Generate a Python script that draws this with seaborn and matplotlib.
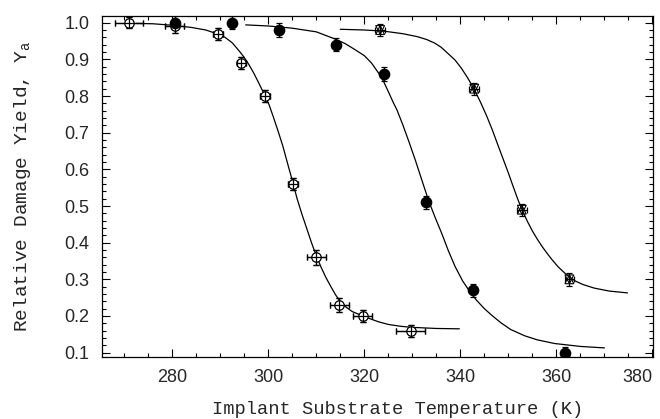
import matplotlib
matplotlib.use("Agg")
import matplotlib.pyplot as plt
import seaborn as sns
import pandas as pd
from matplotlib.ticker import MultipleLocator

# ---- measured points ----
open_T = [271.0, 280.5, 289.5, 294.4, 299.3, 305.2, 310.0, 314.8, 319.7, 329.7]
open_Y = [1.00, 0.99, 0.97, 0.89, 0.80, 0.56, 0.36, 0.23, 0.20, 0.16]
open_Yerr = [0.015, 0.018, 0.016, 0.016, 0.016, 0.016, 0.02, 0.018, 0.016, 0.016]
open_Terr = [3.0, 2.0, 1.0, 1.0, 1.0, 1.0, 2.0, 2.0, 2.0, 3.0]

filled_T = [280.5, 292.4, 302.3, 314.1, 324.1, 332.9, 342.7, 361.8]
filled_Y = [1.00, 1.00, 0.98, 0.94, 0.86, 0.51, 0.27, 0.10]
filled_Yerr = [0.018, 0.018, 0.018, 0.018, 0.018, 0.018, 0.018, 0.015]

star_T = [323.3, 342.9, 352.8, 362.7]
star_Y = [0.98, 0.82, 0.49, 0.30]
star_Yerr = [0.016, 0.016, 0.016, 0.018]
star_Terr = [1.0, 1.0, 1.0, 1.0]

# ---- fitted curves ----
fit1_T = [272.5, 276, 280, 284, 287, 289.5, 291, 292.5, 294, 295, 296, 297, 298,
          299.3, 300.2, 301, 302, 303, 304, 305.2, 306, 307, 308, 309, 310, 311,
          312, 313, 314, 314.8, 316, 317.5, 319.7, 321.5, 323, 325, 327.5, 330,
          335, 339.8]
fit1_Y = [0.998, 0.997, 0.993, 0.987, 0.980, 0.969, 0.960, 0.945, 0.922, 0.905,
          0.885, 0.862, 0.836, 0.801, 0.775, 0.745, 0.706, 0.665, 0.617, 0.560,
          0.520, 0.478, 0.439, 0.400, 0.364, 0.333, 0.305, 0.281, 0.258, 0.243,
          0.226, 0.212, 0.200, 0.191, 0.184, 0.177, 0.172, 0.169, 0.166, 0.165]

fit2_T = [295.3, 300, 305, 310, 314, 316, 318, 320, 321.5, 323, 324, 325, 326,
          326.8, 328, 329.3, 330.6, 332, 333.4, 334.8, 336.1, 337.5, 338.9, 340.5,
          342, 343.3, 345, 346.8, 348.5, 350.5, 353.4, 356, 359.6, 365, 370]
fit2_Y = [0.994, 0.991, 0.985, 0.975, 0.955, 0.943, 0.927, 0.910, 0.890, 0.862,
          0.840, 0.812, 0.783, 0.762, 0.722, 0.675, 0.626, 0.570, 0.514, 0.467,
          0.426, 0.378, 0.335, 0.295, 0.266, 0.244, 0.220, 0.199, 0.181, 0.163,
          0.146, 0.135, 0.125, 0.117, 0.113]

fit3_T = [315.0, 320, 324, 328, 331, 333, 334.7, 336, 337.5, 338.9, 340.2, 341.5,
          342.9, 344.2, 345.5, 346.7, 347.8, 349, 350, 351, 352, 353, 354, 355,
          356, 357, 358, 359, 360.3, 361.5, 362.7, 364, 365.5, 367.9, 371, 374.8]
fit3_Y = [0.982, 0.980, 0.977, 0.970, 0.962, 0.954, 0.944, 0.933, 0.915, 0.898,
          0.876, 0.850, 0.818, 0.783, 0.745, 0.706, 0.667, 0.625, 0.590, 0.553,
          0.517, 0.485, 0.457, 0.432, 0.410, 0.390, 0.372, 0.355, 0.335, 0.320,
          0.306, 0.295, 0.286, 0.276, 0.268, 0.263]

x_ticks = [280, 300, 320, 340, 360, 380]
y_ticks = [0.1, 0.2, 0.3, 0.4, 0.5, 0.6, 0.7, 0.8, 0.9, 1.0]

sns.set_theme(style="ticks")
plt.rcParams["font.family"] = ["Liberation Sans", "DejaVu Sans"]

fig = plt.figure(figsize=(6.6, 4.19), dpi=100)
ax = fig.add_axes([0.154, 0.1487, 0.836, 0.8138])

curves = pd.concat([
    pd.DataFrame({"T": fit1_T, "Y": fit1_Y, "s": "1"}),
    pd.DataFrame({"T": fit2_T, "Y": fit2_Y, "s": "2"}),
    pd.DataFrame({"T": fit3_T, "Y": fit3_Y, "s": "3"}),
])
sns.lineplot(data=curves, x="T", y="Y", units="s", estimator=None, sort=False,
             color="black", lw=0.9, ax=ax, legend=False)

ebkw = dict(ecolor="black", elinewidth=0.9, capsize=2.2, capthick=0.9, ls="none")
ax.errorbar(open_T, open_Y, yerr=open_Yerr, xerr=open_Terr, fmt="o", ms=6.8,
            mfc="white", mec="black", mew=0.9, zorder=3, **ebkw)
# redraw bars on top of the open circles to form the crossed circle
ax.errorbar(open_T, open_Y, yerr=open_Yerr, xerr=open_Terr, fmt="none", zorder=4, **ebkw)

ax.errorbar(filled_T, filled_Y, yerr=filled_Yerr, fmt="o", ms=7.4,
            mfc="black", mec="black", zorder=3, **ebkw)

ax.errorbar(star_T, star_Y, yerr=star_Yerr, xerr=star_Terr, fmt="none", zorder=4, **ebkw)
sns.scatterplot(x=star_T, y=star_Y, marker="^", s=40, facecolor="none",
                edgecolor="black", linewidth=0.8, ax=ax, zorder=5)
sns.scatterplot(x=star_T, y=star_Y, marker="v", s=40, facecolor="none",
                edgecolor="black", linewidth=0.8, ax=ax, zorder=5)

ax.set_xlim(265.3, 380.2)
ax.set_ylim(0.089, 1.019)
ax.set_xticks(x_ticks)
ax.set_xticklabels([str(v) for v in x_ticks])
ax.get_xticklabels()[-1].set_horizontalalignment("right")
ax.set_yticks(y_ticks)
ax.set_yticklabels([f"{v:.1f}" for v in y_ticks])
ax.xaxis.set_minor_locator(MultipleLocator(5))
ax.yaxis.set_minor_locator(MultipleLocator(0.02))
ax.tick_params(which="both", direction="in", top=True, right=True,
               color="black", width=0.8)
ax.tick_params(which="major", length=5.5, labelsize=13, pad=9)
ax.tick_params(which="minor", length=3)
for sp in ax.spines.values():
    sp.set_color("black")
    sp.set_linewidth(0.9)

mono = ["Liberation Mono", "DejaVu Sans Mono"]
ax.set_xlabel("Implant Substrate Temperature (K)", family=mono, fontsize=13.5,
              labelpad=11)
ax.xaxis.label.set_x(0.536)
ax.set_ylabel(r"Relative Damage Yield, $\mathregular{Y_a}$", family=mono,
              fontsize=14, labelpad=22)

fig.savefig("out.png", dpi=100, facecolor="white")
